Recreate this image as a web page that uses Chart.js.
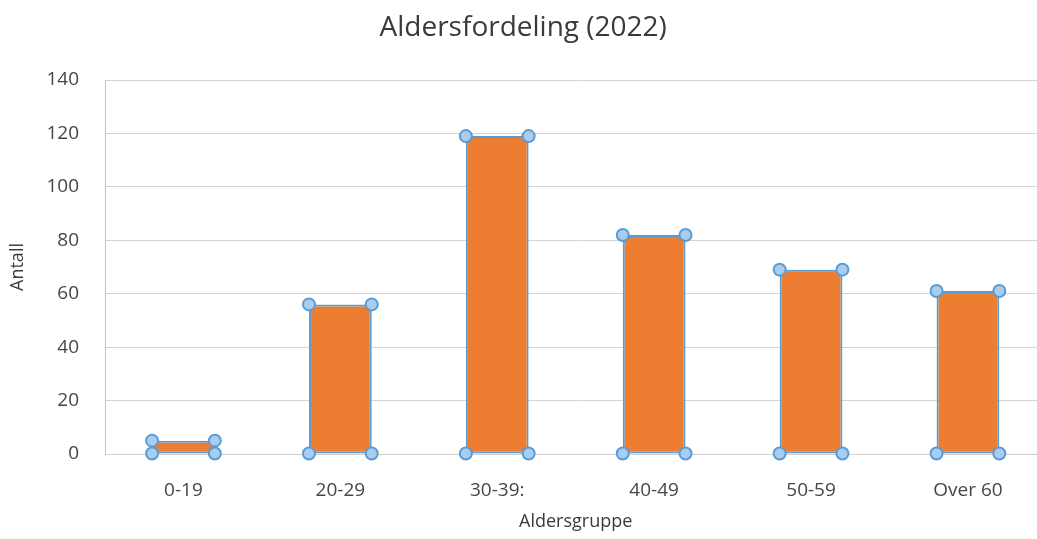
<!DOCTYPE html>
<html>
<head>
<meta charset="utf-8">
<script src="https://cdn.jsdelivr.net/npm/chart.js@4.4.1/dist/chart.umd.min.js"></script>
<style>
html,body{margin:0;padding:0;background:#fff;overflow:hidden;}
#wrap{width:1050px;height:539px;position:relative;}
</style>
</head>
<body>
<div id="wrap"><canvas id="c"></canvas></div>
<script>
const categories = ['0-19', '20-29', '30-39:', '40-49', '50-59', 'Over 60'];
const values = [5, 56, 119, 82, 69, 61];
const yTicks = [0, 20, 40, 60, 80, 100, 120, 140];

const FONT = "'Open Sans', sans-serif";

const handlesPlugin = {
  id: 'handles',
  afterDatasetsDraw(chart) {
    const ctx = chart.ctx;
    const meta = chart.getDatasetMeta(0);
    ctx.save();
    meta.data.forEach(el => {
      const p = el.getProps(['x', 'y', 'base', 'width'], true);
      const pts = [[p.x - p.width / 2, p.y], [p.x + p.width / 2, p.y], [p.x - p.width / 2, p.base], [p.x + p.width / 2, p.base]];
      pts.forEach(([x, y]) => {
        ctx.beginPath();
        ctx.arc(x, y, 6, 0, Math.PI * 2);
        ctx.fillStyle = '#A9CDEF';
        ctx.fill();
        ctx.lineWidth = 2;
        ctx.strokeStyle = '#5B9BD5';
        ctx.stroke();
      });
    });
    ctx.restore();
  }
};

new Chart(document.getElementById('c'), {
  type: 'bar',
  data: {
    labels: categories,
    datasets: [{
      data: values,
      backgroundColor: '#ED7D31',
      borderColor: '#5B9BD5',
      borderWidth: 2,
      borderSkipped: false,
      categoryPercentage: 1,
      barPercentage: 0.4
    }]
  },
  options: {
    responsive: true,
    maintainAspectRatio: false,
    animation: false,
    layout: { padding: { left: 0, right: 3.6, top: 0, bottom: 0 } },
    plugins: {
      legend: { display: false },
      tooltip: { enabled: false },
      title: {
        display: true,
        text: 'Aldersfordeling (2022)',
        color: '#3A3A3A',
        font: { family: FONT, size: 28, weight: 'normal', lineHeight: 1.2 },
        padding: { top: 11, bottom: 35.4 }
      }
    },
    scales: {
      x: {
        grid: { display: false, drawTicks: false },
        border: { display: true, color: '#CFCFCF', width: 1 },
        ticks: { color: '#464646', font: { family: FONT, size: 19 }, padding: 25, maxRotation: 0 },
        title: { display: true, text: 'Aldersgruppe', color: '#3A3A3A', font: { family: FONT, size: 18, lineHeight: 1.2 }, padding: { top: 0, bottom: 6 } },
        afterFit(s) { s.height = 85; }
      },
      y: {
        min: 0, max: 140,
        afterBuildTicks(s) { s.ticks = yTicks.map(v => ({ value: v })); },
        grid: { color: '#D4D4D4', lineWidth: 1, drawTicks: false },
        border: { display: true, color: '#C4C4C4', width: 1 },
        ticks: { color: '#464646', font: { family: FONT, size: 19 }, padding: 26 },
        title: { display: true, text: 'Antall', color: '#3A3A3A', font: { family: FONT, size: 18, lineHeight: 1.2 }, padding: { top: 7, bottom: 0 } },
        afterFit(s) { s.width = 105; }
      }
    }
  },
  plugins: [handlesPlugin]
});
</script>
</body>
</html>
